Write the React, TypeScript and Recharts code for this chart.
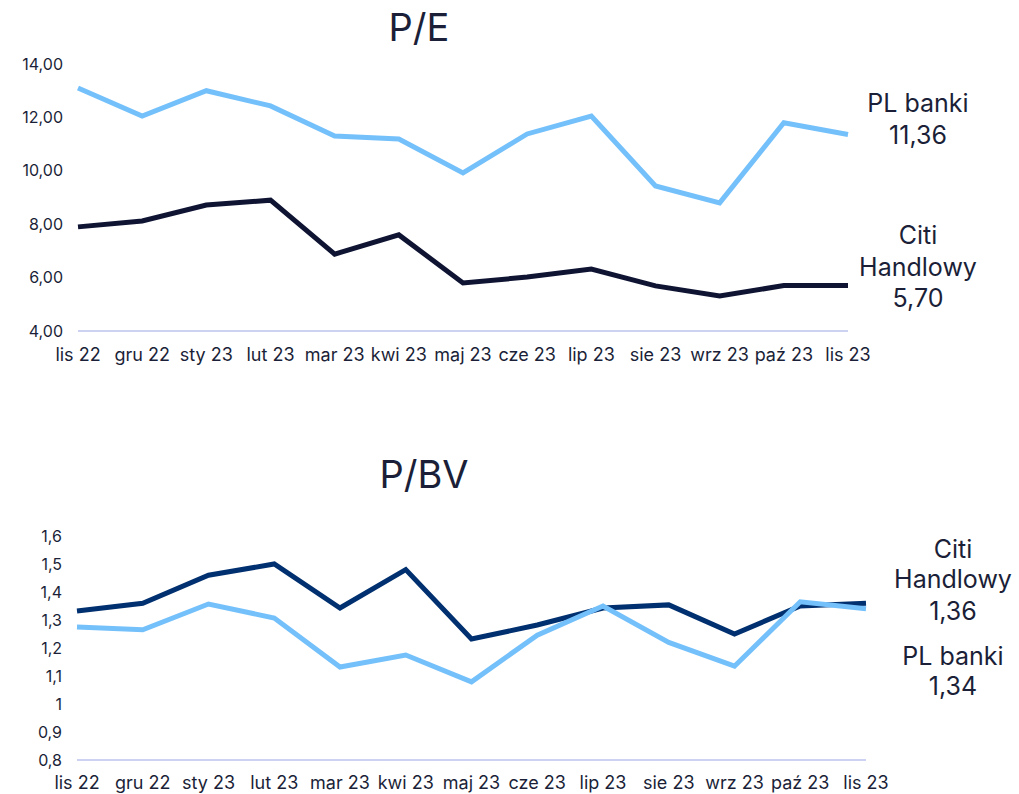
import React from 'react';
import { LineChart, Line, XAxis, YAxis } from 'recharts';

const months = ['lis 22', 'gru 22', 'sty 23', 'lut 23', 'mar 23', 'kwi 23', 'maj 23', 'cze 23', 'lip 23', 'sie 23', 'wrz 23', 'paź 23', 'lis 23'];

const peBanks = [13.1, 12.05, 13.0, 12.43, 11.3, 11.19, 9.92, 11.38, 12.05, 9.43, 8.8, 11.8, 11.36];
const peCiti = [7.9, 8.12, 8.72, 8.9, 6.88, 7.6, 5.8, 6.02, 6.32, 5.69, 5.31, 5.7, 5.7];

const pbvBanks = [1.275, 1.265, 1.357, 1.307, 1.132, 1.175, 1.079, 1.246, 1.35, 1.22, 1.135, 1.365, 1.34];
const pbvCiti = [1.332, 1.36, 1.46, 1.5, 1.343, 1.48, 1.232, 1.282, 1.343, 1.354, 1.25, 1.35, 1.36];

const peTicks = [4, 6, 8, 10, 12, 14];
const pbvTicks = [0.8, 0.9, 1, 1.1, 1.2, 1.3, 1.4, 1.5, 1.6];

const FONT = 'Inter, "Noto Sans", sans-serif';
const TEXT = '#1b1f38';
const LIGHT = '#74c0fb';
const DARK = '#0f1433';
const NAVY = '#00306f';
const GRID = '#cdd1f2';

const peData = months.map((m, i) => ({ m, banks: peBanks[i], citi: peCiti[i] }));
const pbvData = months.map((m, i) => ({ m, banks: pbvBanks[i], citi: pbvCiti[i] }));

const fmt2 = (v: number) => v.toFixed(2).replace('.', ',');
const fmt1 = (v: number) => String(v).replace('.', ',');

// label at the end of a series: lines of text, last line is the value
function endLabel(lines: string[], dx: number, dys: number[], digits: number) {
  return (props: any) => {
    const { x, y, index, value } = props;
    if (index !== months.length - 1) return null;
    const all = [...lines, Number(value).toFixed(digits).replace('.', ',')];
    return (
      <g>
        {all.map((t, i) => (
          <text
            key={i}
            x={x + dx}
            y={y + dys[i]}
            textAnchor="middle"
            dominantBaseline="central"
            fontSize={25}
            fill={TEXT}
            fontFamily={FONT}
          >
            {t}
          </text>
        ))}
      </g>
    );
  };
}

const titleStyle: React.CSSProperties = {
  position: 'absolute',
  fontFamily: FONT,
  fontSize: 38,
  color: TEXT,
  transform: 'translateX(-50%)',
  lineHeight: 1,
};

const xTick = { fontSize: 18, fill: TEXT, fontFamily: FONT };
const yTick = { fontSize: 16, fill: TEXT, fontFamily: FONT };

export default function App() {
  return (
    <div style={{ position: 'absolute', left: 0, top: 0, width: 1019, height: 794, background: '#fff', fontFamily: FONT }}>
      <div style={{ ...titleStyle, left: 419, top: 8 }}>P/E</div>
      <div style={{ ...titleStyle, left: 424, top: 455 }}>P/BV</div>

      <div style={{ position: 'absolute', left: 0, top: 0 }}>
        <LineChart width={1019} height={372} data={peData} margin={{ top: 64, right: 171, bottom: 0, left: 0 }}>
          <XAxis
            dataKey="m"
            interval={0}
            height={41}
            tickLine={false}
            axisLine={{ stroke: GRID, strokeWidth: 2 }}
            tick={xTick}
            tickMargin={11}
          />
          <YAxis
            width={78}
            domain={[4, 14]}
            ticks={peTicks}
            tickFormatter={fmt2}
            axisLine={false}
            tickLine={false}
            tickMargin={9}
            tick={yTick}
          />
          <Line
            dataKey="citi"
            stroke={DARK}
            strokeWidth={5}
            dot={false}
            isAnimationActive={false}
            label={endLabel(['Citi', 'Handlowy'], 70, [-51, -19, 12], 2)}
          />
          <Line
            dataKey="banks"
            stroke={LIGHT}
            strokeWidth={5}
            dot={false}
            isAnimationActive={false}
            label={endLabel(['PL banki'], 70, [-31, 1], 2)}
          />
        </LineChart>
      </div>

      <div style={{ position: 'absolute', left: 0, top: 440 }}>
        <LineChart width={1019} height={354} data={pbvData} margin={{ top: 96, right: 153, bottom: 0, left: 0 }}>
          <XAxis
            dataKey="m"
            interval={0}
            height={34}
            tickLine={false}
            axisLine={{ stroke: GRID, strokeWidth: 2 }}
            tick={xTick}
            tickMargin={10}
          />
          <YAxis
            width={77}
            domain={[0.8, 1.6]}
            ticks={pbvTicks}
            tickFormatter={fmt1}
            axisLine={false}
            tickLine={false}
            tickMargin={9}
            tick={yTick}
          />
          <Line
            dataKey="citi"
            stroke={NAVY}
            strokeWidth={5}
            dot={false}
            isAnimationActive={false}
            label={endLabel(['Citi', 'Handlowy'], 87, [-54, -24, 8], 2)}
          />
          <Line
            dataKey="banks"
            stroke={LIGHT}
            strokeWidth={5}
            dot={false}
            isAnimationActive={false}
            label={endLabel(['PL banki'], 87, [47, 77], 2)}
          />
        </LineChart>
      </div>
    </div>
  );
}
